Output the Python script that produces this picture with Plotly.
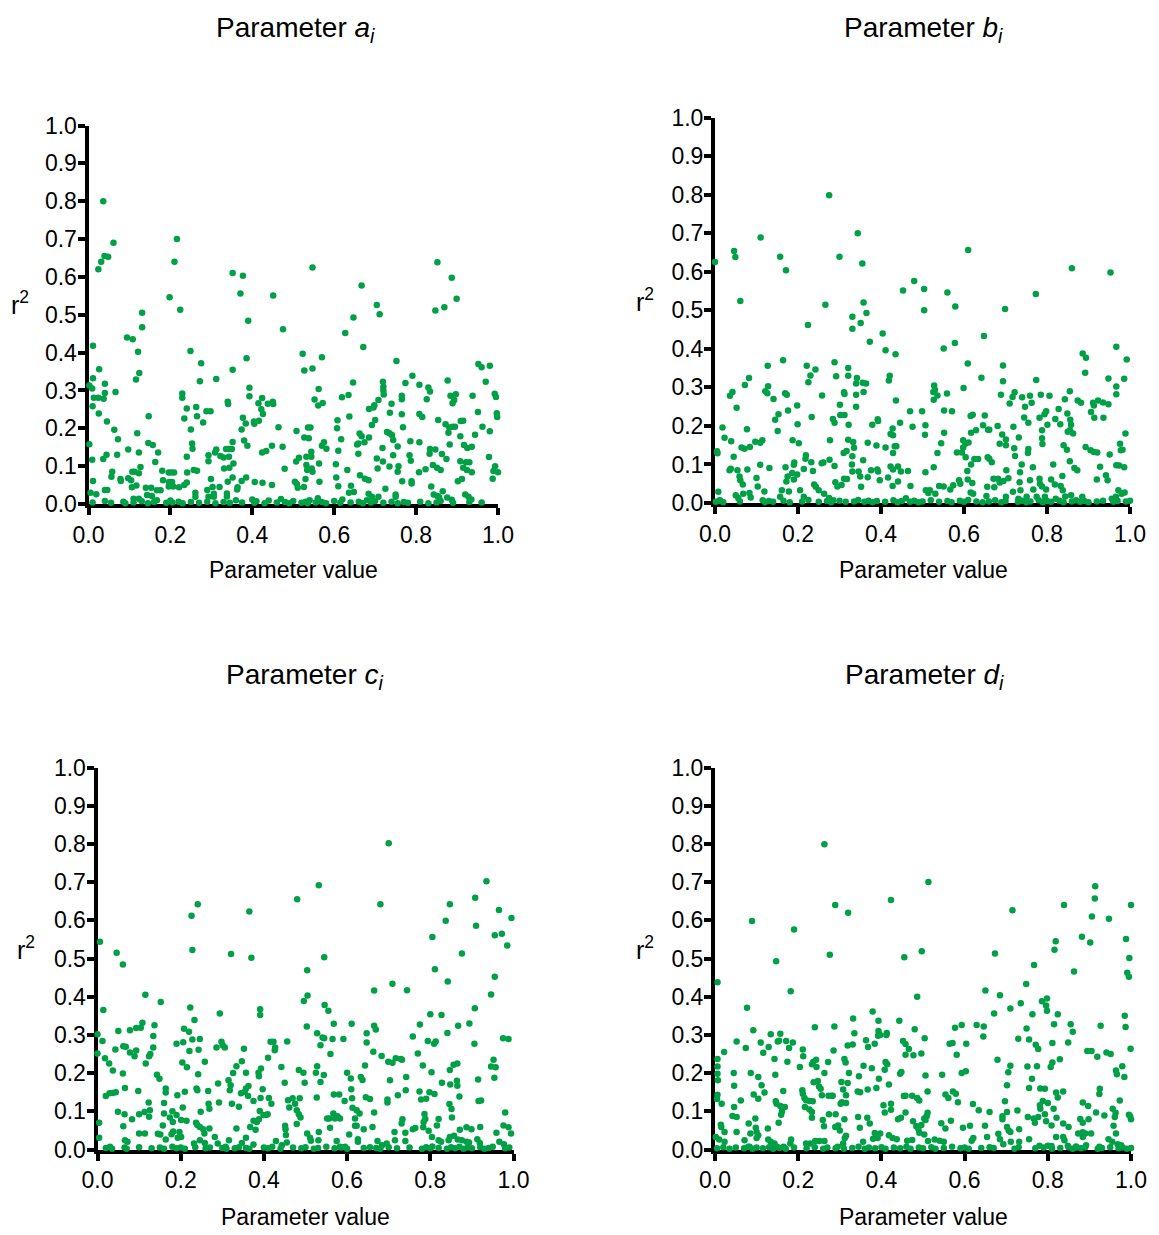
import plotly.graph_objects as go

# ---------------- data (parameter value, r^2) ----------------
param_a = [
(0.036,0.80),(0.216,0.70),(0.061,0.69),(0.039,0.655),(0.048,0.653),(0.031,0.64),(0.024,0.62),(0.21,0.64),(0.198,0.546),(0.224,0.513),
(0.131,0.505),(0.131,0.467),(0.094,0.44),(0.108,0.435),(0.121,0.402),(0.011,0.418),(0.249,0.404),(0.275,0.372),(0.124,0.346),(0.116,0.329),
(0.272,0.324),(0.312,0.33),(0.026,0.356),(0.011,0.332),(0.002,0.313),(0.009,0.305),(0.04,0.318),(0.04,0.293),(0.066,0.296),(0.037,0.278),
(0.013,0.281),(0.024,0.281),(0.01,0.258),(0.229,0.292),(0.229,0.281),(0.24,0.252),(0.234,0.226),(0.263,0.256),(0.265,0.232),(0.28,0.215),
(0.288,0.245),(0.298,0.245),(0.34,0.27),(0.341,0.264),(0.025,0.239),(0.045,0.218),(0.147,0.232),(0.063,0.196),(0.072,0.171),(0.119,0.187),
(0.25,0.197),(0.253,0.16),(0.254,0.146),(0.146,0.161),(0.157,0.156),(0.097,0.144),(0.123,0.136),(0.17,0.136),(0.002,0.158),(0.044,0.13),
(0.036,0.119),(0.07,0.13),(0.009,0.117),(0.163,0.111),(0.24,0.125),(0.293,0.129),(0.293,0.113),(0.312,0.144),(0.309,0.136),(0.322,0.127),
(0.33,0.123),(0.336,0.145),(0.343,0.145),(0.343,0.125),(0.331,0.094),(0.058,0.085),(0.056,0.072),(0.127,0.098),(0.107,0.085),(0.113,0.085),
(0.123,0.081),(0.097,0.068),(0.104,0.063),(0.117,0.049),(0.106,0.044),(0.078,0.066),(0.079,0.061),(0.011,0.061),(0.18,0.088),(0.182,0.063),
(0.196,0.083),(0.202,0.083),(0.209,0.083),(0.197,0.058),(0.204,0.058),(0.196,0.046),(0.207,0.046),(0.221,0.044),(0.234,0.05),(0.24,0.057),
(0.257,0.09),(0.265,0.088),(0.241,0.083),(0.299,0.066),(0.29,0.037),(0.303,0.045),(0.32,0.045),(0.34,0.059),(0.14,0.043),(0.153,0.043),
(0.167,0.036),(0.176,0.036),(0.143,0.024),(0.155,0.021),(0.04,0.037),(0.046,0.037),(0.005,0.03),(0.019,0.026),(0.261,0.03),(0.261,0.019),
(0.293,0.019),(0.306,0.027),(0.306,0.019),(0.11,0.014),(0.123,0.014),(0.167,0.01),(0.338,0.028),(0.338,0.02),
(0.01,0.004),(0.04,0.008),(0.055,0.003),(0.085,0.006),(0.09,0.002),(0.11,0.004),(0.13,0.007),(0.145,0.002),(0.16,0.005),(0.19,0.003),
(0.2,0.009),(0.205,0.004),(0.22,0.006),(0.23,0.002),(0.25,0.005),(0.27,0.003),(0.29,0.006),(0.31,0.002),(0.33,0.005),(0.345,0.003),
(0.352,0.61),(0.377,0.603),(0.371,0.556),(0.451,0.551),(0.547,0.625),(0.667,0.577),(0.39,0.484),(0.475,0.462),(0.647,0.493),(0.627,0.452),
(0.671,0.415),(0.386,0.385),(0.352,0.355),(0.523,0.397),(0.527,0.353),(0.547,0.358),(0.57,0.388),(0.393,0.307),(0.393,0.285),
(0.562,0.304),(0.552,0.276),(0.572,0.267),(0.561,0.26),(0.646,0.321),(0.619,0.282),(0.635,0.288),(0.685,0.251),(0.415,0.266),(0.424,0.28),
(0.438,0.265),(0.45,0.27),(0.451,0.264),(0.422,0.25),(0.426,0.238),(0.404,0.218),(0.405,0.212),(0.416,0.22),(0.377,0.228),(0.384,0.213),
(0.374,0.197),(0.464,0.203),(0.508,0.193),(0.536,0.202),(0.542,0.202),(0.527,0.176),(0.538,0.174),(0.637,0.231),(0.608,0.221),(0.607,0.2),
(0.617,0.171),(0.662,0.186),(0.667,0.179),(0.659,0.16),(0.656,0.157),(0.674,0.163),(0.659,0.133),(0.685,0.176),
(0.352,0.164),(0.35,0.145),(0.354,0.107),(0.344,0.096),(0.352,0.07),
(0.38,0.168),(0.388,0.154),(0.448,0.154),(0.434,0.14),(0.424,0.136),(0.474,0.151),(0.57,0.154),(0.575,0.163),(0.581,0.146),(0.544,0.138),
(0.544,0.125),(0.532,0.125),(0.514,0.122),(0.507,0.112),(0.563,0.107),(0.532,0.103),(0.534,0.09),(0.545,0.094),(0.547,0.085),(0.53,0.066),
(0.61,0.141),(0.604,0.105),(0.632,0.09),(0.605,0.07),(0.479,0.093),(0.385,0.07),(0.374,0.061),(0.364,0.044),(0.363,0.038),(0.406,0.058),
(0.425,0.056),(0.448,0.05),(0.504,0.059),(0.509,0.053),(0.511,0.043),(0.526,0.045),(0.564,0.059),(0.663,0.076),(0.675,0.067),(0.684,0.063),
(0.641,0.048),(0.648,0.032),(0.636,0.03),(0.61,0.047),
(0.36,0.01),(0.375,0.004),(0.4,0.012),(0.405,0.003),(0.41,0.007),(0.43,0.002),(0.44,0.009),(0.46,0.004),(0.47,0.013),(0.48,0.005),
(0.49,0.002),(0.5,0.008),(0.52,0.003),(0.53,0.006),(0.535,0.002),(0.54,0.01),(0.555,0.004),(0.56,0.015),(0.57,0.005),(0.58,0.002),
(0.6,0.008),(0.615,0.003),(0.62,0.012),(0.64,0.004),(0.66,0.006),(0.67,0.002),(0.68,0.01),
(0.852,0.639),(0.887,0.598),(0.899,0.542),(0.869,0.52),(0.847,0.511),(0.704,0.526),(0.711,0.501),(0.752,0.378),(0.952,0.37),(0.96,0.361),
(0.98,0.365),(0.791,0.339),(0.774,0.32),(0.808,0.315),(0.719,0.323),(0.72,0.31),(0.72,0.3),(0.721,0.289),(0.708,0.275),(0.698,0.261),
(0.696,0.255),(0.765,0.286),(0.765,0.277),(0.74,0.265),(0.83,0.308),(0.834,0.297),(0.826,0.277),(0.877,0.326),(0.884,0.286),(0.897,0.29),
(0.893,0.275),(0.889,0.266),(0.938,0.286),(0.97,0.323),(0.992,0.291),(0.995,0.283),(0.736,0.241),(0.765,0.237),(0.808,0.238),(0.815,0.23),
(0.854,0.222),(0.872,0.211),(0.881,0.202),(0.889,0.204),(0.895,0.204),(0.909,0.219),(0.915,0.22),(0.951,0.243),(0.997,0.24),(0.998,0.23),
(0.962,0.204),(0.98,0.192),(0.7,0.222),(0.692,0.209),(0.768,0.203),(0.729,0.19),(0.735,0.187),(0.741,0.182),(0.744,0.169),
(0.786,0.166),(0.808,0.163),(0.879,0.188),(0.908,0.179),(0.944,0.183),(0.882,0.157),(0.917,0.156),(0.925,0.148),(0.936,0.151),(0.718,0.148),
(0.755,0.152),(0.834,0.145),(0.833,0.133),(0.847,0.144),(0.784,0.129),(0.787,0.114),(0.744,0.129),(0.704,0.12),(0.719,0.112),(0.706,0.094),
(0.735,0.099),(0.757,0.1),(0.755,0.085),(0.863,0.132),(0.874,0.119),(0.908,0.113),(0.922,0.11),(0.93,0.11),(0.915,0.096),(0.924,0.09),
(0.936,0.084),(0.978,0.124),(0.841,0.103),(0.851,0.096),(0.86,0.09),(0.823,0.092),(0.807,0.084),(0.993,0.1),(0.989,0.087),(1.0,0.084),
(0.987,0.067),(0.766,0.06),(0.789,0.06),(0.789,0.054),(0.902,0.06),(0.912,0.066),(0.837,0.046),(0.865,0.034),(0.843,0.025),
(0.852,0.021),(0.856,0.018),(0.876,0.017),(0.887,0.011),(0.92,0.025),(0.928,0.019),(0.935,0.012),(0.725,0.04),(0.708,0.019),(0.692,0.019),
(0.684,0.027),(0.75,0.025),(0.75,0.019),
(0.69,0.004),(0.7,0.008),(0.72,0.003),(0.74,0.006),(0.755,0.002),(0.77,0.005),(0.78,0.003),(0.81,0.006),(0.83,0.002),(0.85,0.004),
(0.86,0.008),(0.89,0.003),(0.93,0.005),(0.96,0.004),
]

param_b = [
(0.275,0.798),(0.11,0.689),(0.046,0.654),(0.049,0.638),(0.0,0.625),(0.157,0.639),(0.171,0.604),(0.3,0.639),(0.061,0.524),(0.266,0.514),
(0.224,0.462),(0.164,0.37),(0.127,0.356),(0.221,0.356),(0.23,0.331),(0.225,0.313),(0.242,0.346),(0.288,0.365),(0.292,0.329),(0.321,0.35),
(0.082,0.324),(0.072,0.306),(0.042,0.288),(0.036,0.278),(0.128,0.303),(0.121,0.29),(0.126,0.285),(0.169,0.285),(0.173,0.281),(0.258,0.279),
(0.052,0.247),(0.311,0.287),(0.312,0.283),(0.301,0.255),(0.141,0.27),(0.198,0.253),(0.176,0.24),(0.153,0.23),(0.145,0.216),(0.199,0.204),
(0.233,0.223),(0.284,0.218),(0.288,0.208),(0.302,0.228),(0.312,0.228),(0.322,0.203),(0.151,0.187),(0.018,0.196),(0.077,0.191),(0.023,0.169),
(0.039,0.16),(0.097,0.159),(0.109,0.156),(0.114,0.163),(0.187,0.163),(0.202,0.155),(0.277,0.163),(0.321,0.164),(0.064,0.144),(0.071,0.141),
(0.084,0.145),(0.005,0.134),(0.006,0.129),(0.045,0.12),(0.219,0.124),(0.218,0.115),(0.232,0.106),(0.261,0.105),(0.257,0.103),(0.276,0.112),
(0.109,0.099),(0.191,0.105),(0.31,0.13),(0.317,0.135),(0.038,0.089),(0.035,0.085),(0.054,0.085),(0.078,0.087),(0.131,0.091),(0.17,0.093),
(0.19,0.099),(0.214,0.088),(0.236,0.083),(0.288,0.096),(0.059,0.069),(0.061,0.059),(0.1,0.065),(0.103,0.043),(0.175,0.069),(0.186,0.078),
(0.19,0.061),(0.172,0.056),(0.198,0.074),(0.239,0.048),(0.243,0.042),(0.25,0.033),(0.29,0.054),(0.295,0.043),(0.305,0.047),(0.311,0.063),
(0.318,0.062),(0.067,0.048),(0.068,0.024),(0.083,0.026),(0.086,0.014),(0.008,0.029),(0.012,0.007),(0.119,0.03),(0.161,0.033),(0.157,0.016),
(0.178,0.03),(0.205,0.033),(0.214,0.016),(0.263,0.024),(0.275,0.013),(0.285,0.007),(0.05,0.02),(0.056,0.013),
(0.002,0.003),(0.01,0.006),(0.02,0.002),(0.06,0.004),(0.115,0.007),(0.12,0.002),(0.13,0.005),(0.14,0.003),(0.165,0.006),(0.18,0.002),
(0.21,0.004),(0.225,0.008),(0.25,0.003),(0.27,0.005),(0.28,0.002),(0.3,0.006),(0.315,0.003),
(0.344,0.70),(0.355,0.621),(0.61,0.656),(0.48,0.576),(0.453,0.551),(0.504,0.555),(0.504,0.5),(0.56,0.546),(0.579,0.51),(0.358,0.52),
(0.365,0.493),(0.351,0.467),(0.331,0.483),(0.331,0.452),(0.404,0.44),(0.373,0.418),(0.411,0.396),(0.435,0.386),(0.551,0.401),(0.578,0.415),
(0.648,0.433),(0.609,0.362),(0.321,0.33),(0.342,0.324),(0.34,0.31),(0.356,0.312),(0.364,0.31),(0.34,0.281),(0.358,0.288),(0.34,0.25),
(0.421,0.33),(0.419,0.318),(0.642,0.325),(0.528,0.305),(0.53,0.294),(0.526,0.288),(0.536,0.279),(0.527,0.268),(0.559,0.284),(0.599,0.298),
(0.436,0.266),(0.47,0.238),(0.499,0.238),(0.552,0.24),(0.571,0.238),(0.621,0.229),(0.616,0.226),(0.65,0.227),
(0.393,0.213),(0.392,0.217),(0.379,0.203),(0.446,0.208),(0.476,0.198),(0.507,0.202),(0.506,0.177),(0.552,0.182),(0.428,0.193),(0.423,0.179),
(0.429,0.176),(0.646,0.202),(0.658,0.19),(0.617,0.182),(0.629,0.189),(0.333,0.158),(0.335,0.143),(0.368,0.156),(0.389,0.149),(0.411,0.144),
(0.433,0.147),(0.437,0.147),(0.429,0.13),(0.545,0.155),(0.536,0.13),(0.598,0.163),(0.603,0.154),(0.611,0.157),(0.598,0.144),(0.583,0.131),
(0.595,0.131),(0.604,0.119),(0.625,0.114),(0.634,0.114),(0.617,0.1),(0.608,0.083),(0.657,0.119),(0.661,0.115),
(0.331,0.121),(0.33,0.1),(0.331,0.082),(0.357,0.111),(0.346,0.082),(0.35,0.069),(0.368,0.067),(0.376,0.085),(0.391,0.087),(0.393,0.082),
(0.397,0.059),(0.417,0.066),(0.423,0.095),(0.429,0.087),(0.441,0.095),(0.448,0.082),(0.441,0.056),(0.465,0.083),(0.507,0.08),(0.527,0.093),
(0.352,0.042),(0.428,0.044),(0.471,0.044),(0.54,0.044),(0.551,0.043),(0.574,0.046),(0.567,0.035),(0.588,0.059),(0.591,0.05),(0.609,0.061),
(0.62,0.052),(0.616,0.027),(0.622,0.024),(0.508,0.033),(0.518,0.033),(0.514,0.026),(0.531,0.024),(0.656,0.042),(0.654,0.018),
(0.335,0.004),(0.345,0.008),(0.36,0.003),(0.37,0.006),(0.38,0.002),(0.39,0.005),(0.41,0.003),(0.43,0.007),(0.44,0.002),(0.45,0.005),
(0.46,0.012),(0.47,0.003),(0.48,0.006),(0.49,0.002),(0.5,0.004),(0.52,0.007),(0.54,0.003),(0.56,0.005),(0.57,0.002),(0.59,0.006),
(0.6,0.003),(0.61,0.008),(0.63,0.004),(0.645,0.002),
(0.86,0.609),(0.953,0.598),(0.773,0.542),(0.699,0.503),(0.886,0.388),(0.894,0.377),(0.892,0.338),(0.967,0.405),(0.992,0.372),(0.694,0.357),
(0.694,0.316),(0.774,0.319),(0.948,0.323),(0.967,0.302),(0.967,0.282),(0.986,0.322),(0.689,0.281),(0.722,0.287),(0.717,0.275),(0.71,0.258),
(0.74,0.274),(0.759,0.278),(0.763,0.26),(0.747,0.25),(0.785,0.281),(0.806,0.278),(0.855,0.29),(0.843,0.269),(0.874,0.266),(0.882,0.26),
(0.911,0.26),(0.913,0.253),(0.923,0.266),(0.935,0.261),(0.948,0.256),(0.906,0.236),(0.914,0.221),(0.936,0.221),(0.798,0.238),(0.794,0.23),
(0.801,0.203),(0.782,0.221),(0.745,0.222),(0.755,0.208),(0.828,0.244),(0.82,0.218),(0.832,0.204),(0.849,0.232),(0.856,0.216),(0.858,0.203),
(0.855,0.189),(0.863,0.18),(0.85,0.185),(0.661,0.19),(0.681,0.2),(0.719,0.198),(0.732,0.17),(0.788,0.189),(0.788,0.168),(0.789,0.153),
(0.692,0.178),(0.701,0.165),(0.701,0.15),(0.686,0.154),(0.721,0.142),(0.723,0.122),(0.755,0.14),(0.754,0.13),(0.84,0.15),(0.848,0.138),
(0.893,0.145),(0.905,0.137),(0.913,0.132),(0.921,0.131),(0.951,0.126),(0.976,0.154),(0.978,0.137),(0.982,0.138),(0.989,0.18),(0.667,0.106),
(0.739,0.1),(0.735,0.08),(0.734,0.054),(0.766,0.093),(0.815,0.1),(0.855,0.108),(0.866,0.091),(0.873,0.085),(0.928,0.094),(0.967,0.098),
(0.974,0.097),(0.986,0.093),(0.702,0.085),(0.707,0.064),(0.695,0.057),(0.686,0.053),(0.682,0.063),(0.671,0.063),(0.673,0.041),(0.837,0.07),
(0.92,0.061),(0.942,0.072),(0.946,0.059),(0.759,0.059),(0.782,0.063),(0.783,0.05),(0.788,0.043),(0.81,0.061),(0.819,0.048),(0.718,0.029),
(0.736,0.033),(0.767,0.035),(0.798,0.035),(0.833,0.044),(0.838,0.033),(0.972,0.033),(0.98,0.024),(0.987,0.027),
(0.701,0.016),(0.731,0.011),(0.751,0.016),(0.775,0.016),(0.795,0.016),(0.821,0.011),(0.844,0.017),(0.858,0.02),(0.885,0.016),(0.956,0.011),
(0.966,0.016),
(0.66,0.004),(0.675,0.007),(0.69,0.002),(0.7,0.005),(0.73,0.003),(0.74,0.006),(0.75,0.002),(0.76,0.004),(0.78,0.007),(0.79,0.002),
(0.8,0.005),(0.81,0.003),(0.83,0.006),(0.84,0.002),(0.86,0.004),(0.87,0.007),(0.88,0.003),(0.89,0.005),(0.9,0.002),(0.92,0.004),
(0.935,0.006),(0.96,0.003),(0.97,0.005),(0.99,0.004),(1.0,0.006),
]

param_c = [
(0.241,0.642),(0.226,0.612),(0.228,0.522),(0.006,0.544),(0.046,0.515),(0.061,0.484),(0.321,0.512),(0.115,0.405),(0.152,0.386),(0.014,0.365),
(0.223,0.372),(0.233,0.339),(0.294,0.356),(0.0,0.302),(0.012,0.284),(0.0,0.251),(0.05,0.31),(0.078,0.312),(0.093,0.318),(0.104,0.319),
(0.108,0.332),(0.137,0.325),(0.134,0.297),(0.134,0.267),(0.208,0.316),(0.22,0.308),(0.206,0.281),(0.19,0.277),(0.228,0.288),(0.246,0.289),
(0.221,0.258),(0.243,0.261),(0.286,0.267),(0.298,0.282),(0.301,0.273),(0.306,0.267),(0.018,0.239),(0.028,0.225),(0.037,0.207),(0.043,0.262),
(0.062,0.27),(0.068,0.269),(0.078,0.254),(0.089,0.244),(0.093,0.259),(0.116,0.225),(0.124,0.244),(0.127,0.25),(0.204,0.228),(0.215,0.215),
(0.258,0.23),(0.061,0.199),(0.143,0.196),(0.149,0.185),(0.242,0.197),(0.326,0.2),(0.02,0.14),(0.029,0.147),(0.036,0.148),(0.044,0.15),
(0.066,0.161),(0.098,0.153),(0.164,0.16),(0.164,0.149),(0.192,0.142),(0.21,0.151),(0.238,0.16),(0.24,0.155),(0.266,0.153),(0.29,0.173),
(0.318,0.155),(0.32,0.168),(0.323,0.12),(0.315,0.181),(0.049,0.099),(0.123,0.123),(0.126,0.103),(0.16,0.122),(0.16,0.094),(0.1,0.092),
(0.113,0.098),(0.124,0.086),(0.18,0.1),(0.19,0.09),(0.205,0.11),(0.267,0.12),(0.269,0.107),(0.292,0.123),(0.248,0.099),(0.065,0.092),
(0.004,0.07),(0.083,0.079),(0.062,0.061),(0.174,0.084),(0.181,0.072),(0.201,0.077),(0.214,0.075),(0.237,0.07),(0.24,0.064),(0.246,0.059),
(0.157,0.063),(0.1,0.042),(0.114,0.042),(0.145,0.041),(0.151,0.039),(0.182,0.047),(0.178,0.04),(0.197,0.046),(0.193,0.031),(0.201,0.033),
(0.254,0.053),(0.257,0.042),(0.269,0.055),(0.246,0.024),(0.004,0.031),(0.066,0.024),(0.072,0.02),(0.164,0.026),(0.232,0.016),(0.258,0.017),
(0.282,0.033),(0.289,0.016),(0.316,0.024),(0.308,0.007),
(0.02,0.004),(0.03,0.007),(0.035,0.002),(0.065,0.005),(0.07,0.002),(0.1,0.006),(0.13,0.003),(0.15,0.005),(0.16,0.002),(0.18,0.007),
(0.19,0.003),(0.2,0.005),(0.21,0.002),(0.235,0.006),(0.26,0.003),(0.27,0.005),(0.3,0.004),(0.31,0.002),
(0.532,0.692),(0.48,0.655),(0.365,0.623),(0.37,0.502),(0.545,0.503),(0.504,0.469),(0.505,0.403),(0.496,0.389),(0.665,0.416),(0.391,0.367),
(0.391,0.352),(0.546,0.378),(0.555,0.363),(0.503,0.322),(0.568,0.329),(0.611,0.329),(0.528,0.304),(0.541,0.293),(0.545,0.291),(0.536,0.273),
(0.565,0.289),(0.591,0.289),(0.647,0.304),(0.647,0.28),(0.665,0.324),(0.663,0.256),(0.456,0.283),(0.416,0.282),(0.423,0.282),(0.427,0.267),
(0.426,0.26),(0.41,0.24),(0.352,0.264),(0.347,0.231),(0.334,0.218),(0.56,0.25),(0.357,0.201),(0.393,0.212),(0.387,0.201),(0.388,0.192),
(0.442,0.216),(0.484,0.208),(0.495,0.201),(0.498,0.175),(0.528,0.218),(0.525,0.201),(0.544,0.195),(0.536,0.177),(0.6,0.201),(0.609,0.186),
(0.633,0.19),(0.637,0.182),(0.643,0.22),(0.45,0.175),(0.34,0.112),(0.345,0.147),(0.354,0.151),(0.357,0.16),(0.363,0.166),(0.362,0.14),
(0.397,0.158),(0.392,0.135),(0.375,0.127),(0.412,0.135),(0.418,0.12),(0.458,0.129),(0.469,0.134),(0.461,0.11),(0.486,0.134),(0.475,0.12),
(0.479,0.103),(0.484,0.092),(0.488,0.084),(0.527,0.136),(0.568,0.144),(0.581,0.144),(0.594,0.127),(0.61,0.158),(0.612,0.134),(0.613,0.109),
(0.623,0.103),(0.63,0.094),(0.619,0.081),(0.645,0.137),(0.655,0.132),(0.665,0.097),(0.39,0.101),(0.399,0.09),(0.405,0.09),(0.409,0.092),
(0.375,0.075),(0.383,0.072),(0.388,0.079),(0.367,0.059),(0.38,0.052),(0.552,0.081),(0.557,0.081),(0.567,0.094),(0.571,0.081),(0.577,0.087),
(0.583,0.081),(0.334,0.055),(0.357,0.031),(0.347,0.017),(0.451,0.062),(0.452,0.053),(0.453,0.038),(0.479,0.067),(0.504,0.042),(0.511,0.031),
(0.513,0.023),(0.532,0.046),(0.531,0.024),(0.559,0.057),(0.605,0.039),(0.619,0.062),(0.623,0.062),(0.64,0.053),(0.661,0.059),(0.626,0.027),
(0.626,0.02),(0.429,0.022),(0.443,0.011),(0.455,0.018),(0.375,0.013),(0.357,0.004),(0.575,0.022),(0.583,0.007),(0.595,0.007),
(0.33,0.003),(0.34,0.006),(0.365,0.002),(0.4,0.005),(0.41,0.003),(0.42,0.007),(0.44,0.002),(0.47,0.005),(0.49,0.003),(0.5,0.006),
(0.52,0.002),(0.53,0.004),(0.55,0.007),(0.57,0.003),(0.585,0.005),(0.6,0.002),(0.64,0.004),(0.655,0.006),
(0.7,0.802),(0.935,0.702),(0.908,0.659),(0.68,0.642),(0.847,0.642),(0.965,0.627),(0.995,0.606),(0.837,0.599),(0.91,0.586),(0.955,0.561),
(0.972,0.565),(0.805,0.556),(0.985,0.534),(0.876,0.513),(0.811,0.472),(0.842,0.44),(0.955,0.452),(0.709,0.434),(0.744,0.417),(0.946,0.406),
(0.907,0.37),(0.8,0.354),(0.827,0.352),(0.775,0.327),(0.669,0.314),(0.867,0.324),(0.894,0.33),(0.758,0.296),(0.794,0.284),(0.809,0.277),
(0.813,0.283),(0.841,0.305),(0.906,0.277),(0.975,0.291),(0.988,0.289),(0.683,0.245),(0.699,0.23),(0.709,0.227),(0.717,0.239),(0.729,0.237),
(0.732,0.235),(0.77,0.251),(0.782,0.22),(0.803,0.202),(0.847,0.208),(0.856,0.222),(0.865,0.225),(0.952,0.235),(0.946,0.217),(0.957,0.215),
(0.954,0.188),(0.703,0.181),(0.742,0.19),(0.828,0.175),(0.848,0.17),(0.864,0.18),(0.865,0.167),(0.915,0.183),(0.722,0.142),(0.741,0.155),
(0.774,0.152),(0.697,0.131),(0.697,0.123),(0.778,0.131),(0.79,0.133),(0.798,0.15),(0.81,0.145),(0.87,0.139),(0.916,0.127),(0.922,0.128),
(0.846,0.119),(0.851,0.106),(0.786,0.093),(0.788,0.08),(0.852,0.084),(0.82,0.08),(0.733,0.079),(0.731,0.068),(0.764,0.056),(0.758,0.053),
(0.784,0.072),(0.783,0.058),(0.796,0.049),(0.804,0.033),(0.714,0.046),(0.715,0.024),(0.74,0.044),(0.74,0.022),(0.816,0.063),(0.871,0.052),
(0.887,0.058),(0.899,0.053),(0.92,0.059),(0.98,0.097),(0.976,0.063),(0.988,0.058),(0.994,0.042),(0.959,0.044),(0.673,0.022),(0.684,0.011),
(0.695,0.016),(0.82,0.024),(0.826,0.02),(0.844,0.024),(0.847,0.033),(0.857,0.036),(0.866,0.026),(0.876,0.024),(0.887,0.02),(0.893,0.018),
(0.913,0.027),(0.919,0.017),(0.966,0.02),(0.977,0.014),
(0.67,0.004),(0.68,0.002),(0.7,0.006),(0.72,0.003),(0.75,0.005),(0.78,0.002),(0.79,0.006),(0.8,0.003),(0.805,0.008),(0.82,0.004),
(0.84,0.002),(0.85,0.006),(0.86,0.003),(0.87,0.007),(0.88,0.002),(0.89,0.005),(0.9,0.003),(0.92,0.006),(0.93,0.002),(0.94,0.004),
(0.95,0.007),(0.98,0.003),(0.99,0.005),
]

param_d = [
(0.263,0.799),(0.289,0.64),(0.32,0.62),(0.089,0.598),(0.19,0.576),(0.276,0.51),(0.147,0.493),(0.182,0.414),(0.006,0.438),(0.077,0.371),
(0.24,0.32),(0.287,0.322),(0.092,0.312),(0.134,0.302),(0.157,0.303),(0.154,0.285),(0.151,0.283),(0.171,0.284),(0.187,0.28),(0.178,0.266),
(0.052,0.283),(0.074,0.266),(0.11,0.28),(0.116,0.253),(0.129,0.268),(0.022,0.255),(0.006,0.237),(0.006,0.217),(0.006,0.198),(0.007,0.181),
(0.319,0.272),(0.143,0.237),(0.174,0.23),(0.211,0.262),(0.212,0.244),(0.204,0.216),(0.272,0.229),(0.285,0.259),(0.233,0.223),(0.236,0.229),
(0.243,0.235),(0.244,0.216),(0.311,0.237),(0.314,0.228),(0.322,0.2),(0.045,0.2),(0.086,0.2),(0.145,0.196),(0.104,0.19),(0.263,0.2),
(0.237,0.176),(0.247,0.179),(0.25,0.165),(0.254,0.159),(0.046,0.167),(0.112,0.168),(0.119,0.149),(0.093,0.144),(0.164,0.153),(0.21,0.155),
(0.211,0.146),(0.215,0.135),(0.219,0.129),(0.227,0.127),(0.235,0.126),(0.273,0.141),(0.28,0.141),(0.283,0.141),(0.257,0.142),(0.304,0.177),
(0.308,0.157),(0.305,0.124),(0.319,0.174),(0.006,0.143),(0.005,0.132),(0.016,0.12),(0.046,0.111),(0.062,0.128),(0.104,0.133),(0.146,0.126),
(0.148,0.12),(0.157,0.114),(0.168,0.111),(0.161,0.1),(0.216,0.111),(0.227,0.105),(0.233,0.098),(0.233,0.083),(0.29,0.092),(0.302,0.12),
(0.042,0.088),(0.052,0.085),(0.159,0.091),(0.153,0.07),(0.259,0.077),(0.262,0.061),(0.274,0.092),(0.289,0.059),(0.296,0.063),(0.3,0.05),
(0.311,0.079),(0.014,0.065),(0.015,0.059),(0.081,0.068),(0.097,0.081),(0.098,0.057),(0.052,0.046),(0.127,0.055),(0.085,0.042),(0.1,0.046),
(0.104,0.037),(0.1,0.03),(0.002,0.033),(0.01,0.026),(0.023,0.046),(0.023,0.02),(0.071,0.024),(0.083,0.007),(0.128,0.026),(0.134,0.02),
(0.143,0.016),(0.149,0.007),(0.183,0.026),(0.181,0.016),(0.219,0.016),(0.229,0.016),(0.241,0.022),(0.251,0.022),(0.263,0.022),(0.312,0.03),
(0.308,0.016),
(0.005,0.003),(0.02,0.006),(0.035,0.002),(0.05,0.005),(0.07,0.003),(0.08,0.007),(0.09,0.002),(0.1,0.005),(0.115,0.003),(0.13,0.006),
(0.14,0.002),(0.155,0.004),(0.165,0.007),(0.17,0.002),(0.19,0.005),(0.22,0.003),(0.24,0.006),(0.26,0.002),(0.27,0.005),(0.29,0.003),
(0.295,0.007),(0.31,0.002),
(0.513,0.7),(0.423,0.653),(0.455,0.503),(0.497,0.519),(0.486,0.4),(0.65,0.416),(0.379,0.361),(0.332,0.343),(0.393,0.337),(0.443,0.337),
(0.335,0.304),(0.593,0.326),(0.577,0.319),(0.629,0.326),(0.646,0.322),(0.645,0.296),(0.393,0.31),(0.397,0.3),(0.392,0.298),(0.412,0.3),
(0.413,0.305),(0.48,0.315),(0.504,0.291),(0.452,0.284),(0.458,0.276),(0.466,0.263),(0.458,0.248),(0.477,0.247),(0.496,0.251),(0.363,0.286),
(0.368,0.268),(0.384,0.277),(0.331,0.275),(0.564,0.277),(0.571,0.279),(0.604,0.277),(0.581,0.248),(0.357,0.219),(0.377,0.213),(0.41,0.229),
(0.414,0.223),(0.408,0.209),(0.448,0.203),(0.445,0.198),(0.346,0.192),(0.394,0.185),(0.506,0.194),(0.546,0.196),(0.593,0.2),(0.603,0.205),
(0.418,0.17),(0.343,0.152),(0.349,0.15),(0.367,0.157),(0.388,0.161),(0.511,0.152),(0.315,0.142),(0.315,0.122),(0.454,0.14),(0.458,0.141),
(0.474,0.141),(0.486,0.135),(0.491,0.128),(0.554,0.144),(0.561,0.135),(0.572,0.152),(0.579,0.146),(0.584,0.124),(0.62,0.119),(0.634,0.103),
(0.405,0.116),(0.423,0.12),(0.423,0.104),(0.408,0.097),(0.344,0.085),(0.366,0.083),(0.372,0.068),(0.348,0.057),(0.44,0.079),(0.447,0.083),
(0.458,0.097),(0.503,0.081),(0.509,0.088),(0.511,0.096),(0.506,0.077),(0.476,0.074),(0.544,0.069),(0.554,0.055),(0.567,0.075),(0.596,0.057),
(0.613,0.062),(0.649,0.062),(0.66,0.098),(0.484,0.061),(0.489,0.054),(0.496,0.064),(0.491,0.044),(0.503,0.039),(0.384,0.043),(0.391,0.03),
(0.38,0.028),(0.397,0.042),(0.418,0.037),(0.427,0.03),(0.437,0.027),(0.462,0.023),(0.474,0.025),(0.512,0.022),(0.528,0.026),(0.54,0.023),
(0.55,0.02),(0.356,0.02),(0.315,0.036),(0.621,0.03),(0.617,0.023),(0.654,0.033),
(0.33,0.004),(0.345,0.007),(0.36,0.002),(0.37,0.005),(0.385,0.003),(0.4,0.006),(0.41,0.002),(0.43,0.005),(0.445,0.003),(0.46,0.007),
(0.47,0.002),(0.49,0.005),(0.5,0.003),(0.52,0.006),(0.53,0.002),(0.55,0.004),(0.57,0.007),(0.59,0.003),(0.6,0.005),(0.61,0.002),
(0.64,0.004),(0.66,0.006),
(0.914,0.689),(0.913,0.657),(0.715,0.626),(0.839,0.64),(1.0,0.64),(0.906,0.61),(0.947,0.604),(0.819,0.545),(0.816,0.523),(0.882,0.557),
(0.902,0.542),(0.988,0.551),(0.996,0.501),(0.673,0.513),(0.767,0.483),(0.863,0.466),(0.991,0.463),(0.995,0.452),(0.748,0.433),(0.685,0.404),
(0.735,0.383),(0.786,0.388),(0.798,0.395),(0.796,0.377),(0.798,0.363),(0.71,0.369),(0.671,0.356),(0.763,0.354),(0.824,0.354),(0.815,0.328),
(0.855,0.328),(0.86,0.308),(0.749,0.317),(0.927,0.324),(0.985,0.35),(0.987,0.321),(0.755,0.288),(0.771,0.274),(0.777,0.263),(0.729,0.29),
(0.811,0.279),(0.849,0.28),(0.895,0.258),(0.905,0.258),(0.919,0.243),(0.941,0.254),(0.951,0.25),(0.999,0.264),(0.679,0.235),(0.71,0.219),
(0.705,0.202),(0.751,0.217),(0.774,0.218),(0.811,0.228),(0.807,0.216),(0.829,0.236),(0.964,0.207),(0.966,0.197),(0.979,0.218),(0.984,0.19),
(0.702,0.168),(0.762,0.185),(0.755,0.161),(0.782,0.16),(0.793,0.159),(0.82,0.149),(0.824,0.136),(0.837,0.152),(0.925,0.159),(0.924,0.145),
(0.697,0.126),(0.781,0.116),(0.788,0.127),(0.8,0.122),(0.814,0.107),(0.884,0.123),(0.897,0.114),(0.973,0.128),(0.691,0.087),(0.691,0.079),
(0.702,0.098),(0.727,0.102),(0.752,0.085),(0.766,0.081),(0.777,0.085),(0.782,0.107),(0.793,0.092),(0.796,0.074),(0.821,0.083),(0.837,0.068),
(0.85,0.059),(0.878,0.08),(0.898,0.079),(0.884,0.07),(0.916,0.097),(0.936,0.089),(0.956,0.107),(0.963,0.096),(0.961,0.085),(0.958,0.062),
(0.964,0.042),(0.995,0.091),(0.998,0.087),(1.0,0.079),(0.769,0.07),(0.731,0.053),(0.702,0.059),(0.706,0.05),(0.71,0.046),(0.809,0.063),
(0.82,0.033),(0.837,0.033),(0.84,0.024),(0.873,0.042),(0.884,0.045),(0.89,0.042),(0.904,0.042),(0.884,0.033),(0.681,0.041),(0.685,0.027),
(0.693,0.014),(0.755,0.027),(0.731,0.02),(0.711,0.02),(0.946,0.027),(0.955,0.02),(0.968,0.014),(0.976,0.011),
(0.78,0.01),(0.8,0.01),(0.809,0.009),(0.848,0.01),(0.868,0.008),(0.892,0.011),(0.924,0.007),
(0.67,0.004),(0.72,0.002),(0.73,0.006),(0.77,0.003),(0.79,0.005),(0.81,0.002),(0.83,0.004),(0.85,0.006),(0.86,0.002),(0.87,0.005),
(0.88,0.003),(0.89,0.006),(0.92,0.002),(0.93,0.004),(0.95,0.006),(0.97,0.003),(0.98,0.005),(0.99,0.002),(1.0,0.004),
]

panel_titles = ["Parameter <i>a<sub>i</sub></i>", "Parameter <i>b<sub>i</sub></i>",
                "Parameter <i>c<sub>i</sub></i>", "Parameter <i>d<sub>i</sub></i>"]
x_ticks = [0.0, 0.2, 0.4, 0.6, 0.8, 1.0]
y_ticks = [0.0, 0.1, 0.2, 0.3, 0.4, 0.5, 0.6, 0.7, 0.8, 0.9, 1.0]
x_label = "Parameter value"
y_label = "r<sup>2</sup>"

# ---------------- layout geometry (screen pixels) ----------------
SCREEN_W, SCREEN_H = 1159, 1235
OFF = 8  # default page margin around the figure div
W, H = SCREEN_W - OFF, SCREEN_H - OFF
FONT = "Liberation Sans, Arial, sans-serif"
GREEN = "#00a046"


def px(x):
    return (x - OFF) / W


def py(y):
    return 1 - (y - OFF) / H


# (x_left, x_right, y_top, y_bottom) of each plot area, in screen pixels
boxes = [(88.5, 498, 125.5, 504), (715, 1130, 117.5, 503),
         (97.5, 513.5, 767.5, 1149.5), (715, 1131, 767.5, 1149.5)]
title_pos = [(295, 29), (923, 29), (305, 676), (924, 676)]
xlab_pos = [(293, 570), (923, 570), (305, 1217), (923, 1217)]
ylab_pos = [(20, 303), (645, 300), (26, 948), (645, 948)]

fig = go.Figure()
panels = [param_a, param_b, param_c, param_d]
annotations = []
for i, pts in enumerate(panels):
    n = i + 1
    xs = [p[0] for p in pts]
    ys = [p[1] for p in pts]
    fig.add_trace(go.Scatter(
        x=xs, y=ys, mode="markers", xaxis=f"x{n}", yaxis=f"y{n}",
        marker=dict(color=GREEN, size=6.5, line=dict(width=0)),
        cliponaxis=False, showlegend=False, hoverinfo="skip"))
    xl, xr, yt, yb = boxes[i]
    axis_common = dict(range=[0, 1], showgrid=False, zeroline=False, showline=True,
                       linecolor="black", linewidth=4, ticks="outside", ticklen=7,
                       tickwidth=4, tickcolor="black", layer="below traces",
                       automargin=False,
                       tickfont=dict(family=FONT, size=23, color="black"),
                       tickformat=".1f", fixedrange=True)
    fig.layout[f"xaxis{n}"] = dict(axis_common, domain=[px(xl), px(xr)],
                                   anchor=f"y{n}", tickvals=x_ticks)
    fig.layout[f"yaxis{n}"] = dict(axis_common, domain=[py(yb), py(yt)],
                                   anchor=f"x{n}", tickvals=y_ticks,
                                   ticklabelstandoff=-4)
    tx, ty = title_pos[i]
    annotations.append(dict(text=panel_titles[i], x=px(tx), y=py(ty), xref="paper",
                            yref="paper", showarrow=False, xanchor="center", yanchor="middle",
                            font=dict(family=FONT, size=28, color="black")))
    lx, ly = xlab_pos[i]
    annotations.append(dict(text=x_label, x=px(lx), y=py(ly), xref="paper",
                            yref="paper", showarrow=False, xanchor="center", yanchor="middle",
                            font=dict(family=FONT, size=23, color="black")))
    rx, ry = ylab_pos[i]
    annotations.append(dict(text=y_label, x=px(rx), y=py(ry), xref="paper",
                            yref="paper", showarrow=False, xanchor="center", yanchor="middle",
                            font=dict(family=FONT, size=25, color="black")))

fig.update_layout(template="none", width=W, height=H,
                  margin=dict(l=0, r=0, t=0, b=0, autoexpand=False),
                  paper_bgcolor="white", plot_bgcolor="white",
                  annotations=annotations, showlegend=False)
fig.write_html("out.html")
